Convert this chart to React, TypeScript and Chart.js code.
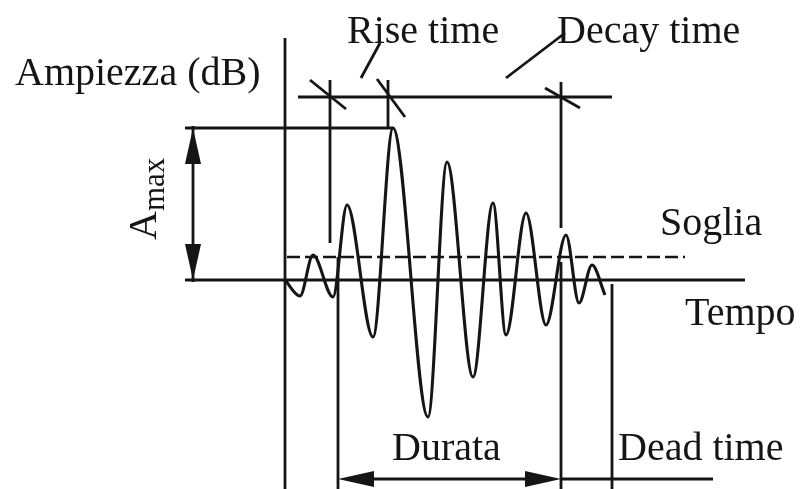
import { useEffect, useRef } from "react";
import { Chart, registerables } from "chart.js";

Chart.register(...registerables);

const INK = "#151515";
const FONT = '"Liberation Serif", "Times New Roman", serif';

// Acoustic-emission burst: time of each extreme and its amplitude (baseline = 0)
const waveTime = [0, 3, 5.6, 9.6, 12.4, 17.6, 21.6, 28.6, 32.4, 37.6, 41.6, 44.2, 48.2, 52.2, 56.2, 58.8, 61.4, 64];
const waveAmp = [0, -8, 12.5, -8.5, 37.5, -28.5, 76, -68.5, 59, -48.5, 38.5, -27.5, 33.5, -22.5, 22.5, -11.5, 7.5, -7.5];

// Characteristic levels (amplitude units)
const ampMax = 76;
const threshold = 11.5;
const axisTop = 121;
const markerTop = 100;
const timingLevel = 91.5;
const riseMarkerBottom = 18.5;
const decayMarkerBottom = 26;
const decayMarkerResume = 9;
const durationLevel = -99.5;

// Characteristic times (time units)
const amaxGuide = -18.4;
const leftExtent = -20;
const rightExtent = 92;
const riseStart = 9;
const peakTime = 20.6;
const durationStart = 10.6;
const decayEnd = 55.2;
const deadEnd = 65.4;
const thresholdEnd = 80;
const timingStart = 2.6;
const deadLineEnd = 85.6;

// Scale extents
const xMin = -57;
const xMax = 104;
const yMin = -104.5;
const yMax = 140;

// Oblique tick marks on the timing line and label leaders: [t1, a1, t2, a2]
const slashMarks = [
  [5, 100, 12.2, 85.5],
  [18.4, 100.5, 24, 81.5],
  [52, 96, 59, 86],
];
const leaders = [
  [19, 118.5, 15.2, 101],
  [56, 123.5, 44.2, 101],
];

// Labels: text, time, amplitude (left/baseline anchor)
const labels: [string, number, number][] = [
  ["Ampiezza (dB)", -54, 97.5],
  ["Rise time", 12.4, 118.5],
  ["Decay time", 54.4, 118.5],
  ["Soglia", 75, 22.5],
  ["Tempo", 80, -22.5],
  ["Durata", 21.4, -90],
  ["Dead time", 66.6, -90],
];
const amaxLabel = { t: -25.8, a: 20 };

function seg(x1: number, y1: number, x2: number, y2: number, extra: any = {}) {
  return {
    data: [
      { x: x1, y: y1 },
      { x: x2, y: y2 },
    ],
    borderColor: INK,
    borderWidth: 2.8,
    pointRadius: 0,
    tension: 0,
    fill: false,
    ...extra,
  };
}

const annotationsPlugin = {
  id: "burstAnnotations",
  afterDatasetsDraw(chart: any) {
    const { ctx, scales } = chart;
    const px = (t: number) => scales.x.getPixelForValue(t);
    const py = (a: number) => scales.y.getPixelForValue(a);

    const arrowHead = (tx: number, ty: number, dx: number, dy: number) => {
      const len = 36;
      const half = 8;
      const nx = -dy;
      const ny = dx;
      const bx = tx - dx * len;
      const by = ty - dy * len;
      ctx.beginPath();
      ctx.moveTo(tx, ty);
      ctx.lineTo(bx + nx * half, by + ny * half);
      ctx.lineTo(bx - nx * half, by - ny * half);
      ctx.closePath();
      ctx.fill();
    };

    ctx.save();
    ctx.fillStyle = INK;

    // A_max double arrow
    arrowHead(px(amaxGuide), py(ampMax), 0, -1);
    arrowHead(px(amaxGuide), py(0), 0, 1);

    // Durata double arrow
    arrowHead(px(durationStart), py(durationLevel), -1, 0);
    arrowHead(px(decayEnd), py(durationLevel), 1, 0);

    ctx.textBaseline = "alphabetic";
    ctx.textAlign = "left";
    ctx.font = `40px ${FONT}`;
    for (const [text, t, a] of labels) {
      ctx.fillText(text, px(t), py(a));
    }

    // Rotated A_max with subscript
    ctx.translate(px(amaxLabel.t), py(amaxLabel.a));
    ctx.rotate(-Math.PI / 2);
    ctx.font = `40px ${FONT}`;
    ctx.fillText("A", 0, 0);
    const w = ctx.measureText("A").width;
    ctx.font = `31px ${FONT}`;
    ctx.fillText("max", w, 8);
    ctx.restore();
  },
};

export default function App() {
  const canvasRef = useRef<HTMLCanvasElement | null>(null);

  useEffect(() => {
    if (!canvasRef.current) return;

    const wave = {
      data: waveTime.map((t, i) => ({ x: t, y: waveAmp[i] })),
      borderColor: INK,
      borderWidth: 3.1,
      pointRadius: 0,
      cubicInterpolationMode: "monotone",
      fill: false,
    };

    const datasets: any[] = [
      // axes
      seg(0, axisTop, 0, yMin),
      seg(leftExtent, 0, rightExtent, 0),
      // A_max reference line and guide
      seg(leftExtent, ampMax, peakTime + 1, ampMax),
      seg(amaxGuide, ampMax + 1, amaxGuide, -1),
      // threshold
      seg(0.4, threshold, thresholdEnd, threshold, { borderDash: [13, 5], borderWidth: 2.5 }),
      // timing line and markers
      seg(timingStart, timingLevel, deadEnd, timingLevel),
      seg(riseStart, markerTop, riseStart, riseMarkerBottom),
      seg(peakTime, markerTop, peakTime, ampMax),
      seg(decayEnd, markerTop - 1, decayEnd, decayMarkerBottom),
      seg(decayEnd, decayMarkerResume, decayEnd, yMin),
      // duration / dead time
      seg(durationStart, threshold, durationStart, yMin),
      seg(deadEnd, -2, deadEnd, yMin),
      seg(durationStart + 3, durationLevel, decayEnd - 3, durationLevel),
      seg(decayEnd, durationLevel, deadLineEnd, durationLevel),
      ...slashMarks.map(([a, b, c, d]) => seg(a, b, c, d)),
      ...leaders.map(([a, b, c, d]) => seg(a, b, c, d)),
      wave,
    ];

    const chart = new Chart(canvasRef.current, {
      type: "line",
      data: { datasets },
      options: {
        animation: false,
        responsive: false,
        maintainAspectRatio: false,
        layout: { padding: 0 },
        plugins: {
          legend: { display: false },
          tooltip: { enabled: false },
          title: { display: false },
        },
        events: [],
        scales: {
          x: { type: "linear", min: xMin, max: xMax, display: false },
          y: { type: "linear", min: yMin, max: yMax, display: false },
        },
      },
      plugins: [annotationsPlugin],
    } as any);

    return () => chart.destroy();
  }, []);

  return (
    <div style={{ position: "fixed", left: 0, top: 0, width: 805, height: 489, background: "#fff" }}>
      <canvas ref={canvasRef} width={805} height={489} style={{ display: "block" }} />
    </div>
  );
}
